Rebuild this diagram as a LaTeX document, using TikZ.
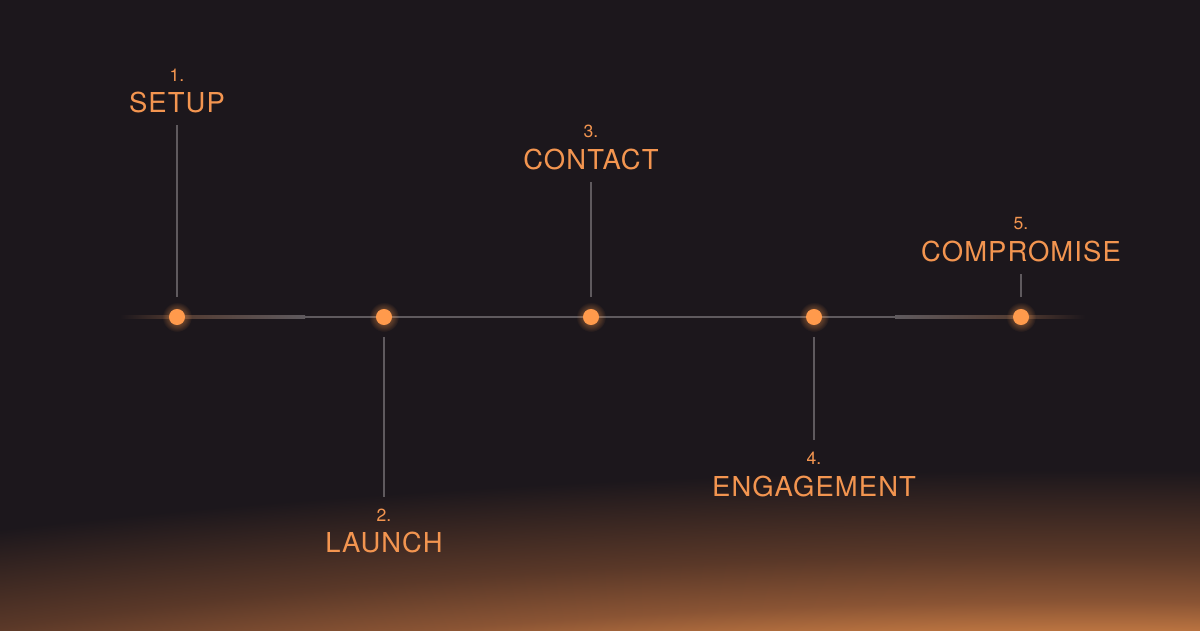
\documentclass[tikz,border=0pt]{standalone}
\usepackage{fontspec}
\setmainfont{TeX Gyre Heros}
\newfontfamily\stepfont[LetterSpace=4]{TeX Gyre Heros}
\usetikzlibrary{fadings,calc}

\definecolor{bgc}{HTML}{1C171C}
\definecolor{linegray}{HTML}{5F5A5E}
\definecolor{linebrown}{HTML}{523A30}
\definecolor{dotc}{HTML}{FF9A4C}
\definecolor{txtc}{HTML}{F39550}
\definecolor{glowhi}{HTML}{D48849}
\definecolor{glowa}{HTML}{B87240}
\definecolor{glowb}{HTML}{8A5434}
\definecolor{glowc}{HTML}{5A3828}

\pgfdeclareradialshading{dusk}{\pgfpoint{0bp}{0bp}}{color(0bp)=(glowhi); color(16bp)=(glowhi); color(17.5bp)=(glowa); color(18.8bp)=(glowb); color(21bp)=(glowc); color(25bp)=(bgc); color(50bp)=(bgc)}
\tikzfading[name=halofade, inner color=transparent!35, outer color=transparent!100]

\pgfdeclarelayer{background}
\pgfsetlayers{background,main}

\begin{document}
\begin{tikzpicture}[x=0.025cm, y=-0.025cm]

\tikzstyle{dot}=[circle, fill=dotc, minimum size=11.4pt, inner sep=0pt, outer sep=8.5pt]
\tikzstyle{halo}=[fill=dotc, path fading=halofade]
\tikzstyle{stepnum}=[text=txtc, font=\fontsize{12.5}{14}\selectfont, inner sep=0pt, outer sep=8.5pt]
\tikzstyle{steptitle}=[text=txtc, font=\fontsize{19.5}{22}\stepfont, inner sep=0pt, outer sep=8pt]
\tikzstyle{stem}=[draw=linegray, line width=1.4pt]
\tikzstyle{axis}=[draw=linegray, line width=1.7pt]

\useasboundingbox (0,0) rectangle (1200,630);

% --- timeline dots ---
\node[dot] (d1) at (177,317) {};
\node[dot] (d2) at (384,317) {};
\node[dot] (d3) at (591,317) {};
\node[dot] (d4) at (814,317) {};
\node[dot] (d5) at (1021,317) {};
\coordinate (tl-start) at (120,317);
\coordinate (fade-l) at (305,317);
\coordinate (fade-r) at (895,317);
\coordinate (tl-end) at (1085,317);

\begin{pgfonlayer}{background}
% --- background ---
\fill[bgc] (0,0) rectangle (1200,630);
\begin{scope}
\clip (0,0) rectangle (1200,630);
\shade[shading=dusk] (1100,1000) ellipse (2390 and 530);
\end{scope}

% --- timeline line ---
\shade[left color=bgc, right color=linebrown] ($(tl-start)+(0,-1.2)$) rectangle ($(d1.center)+(0,1.2)$);
\shade[left color=linebrown, right color=linegray] ($(d1.center)+(0,-1.2)$) rectangle ($(fade-l)+(0,1.2)$);
\draw[axis] (fade-l) -- (d2.center) -- (d3.center) -- (d4.center) -- (fade-r);
\shade[left color=linegray, right color=linebrown] ($(fade-r)+(0,-1.2)$) rectangle ($(d5.center)+(0,1.2)$);
\shade[left color=linebrown, right color=bgc] ($(d5.center)+(0,-1.2)$) rectangle ($(tl-end)+(0,1.2)$);

% --- halos ---
\fill[halo] (d1) circle (15);
\fill[halo] (d2) circle (15);
\fill[halo] (d3) circle (15);
\fill[halo] (d4) circle (15);
\fill[halo] (d5) circle (15);
\end{pgfonlayer}

% --- step labels ---
\node[stepnum] (n1) at (177,75) {1.};
\node[steptitle] (s1) at (177,103) {SETUP};
\node[stepnum] (n2) at (384,515) {2.};
\node[steptitle] (s2) at (384,542) {LAUNCH};
\node[stepnum] (n3) at (591,131) {3.};
\node[steptitle] (s3) at (591,160) {CONTACT};
\node[stepnum] (n4) at (814,458) {4.};
\node[steptitle] (s4) at (814,486) {ENGAGEMENT};
\node[stepnum] (n5) at (1021,224) {5.};
\node[steptitle] (s5) at (1021,252) {COMPROMISE};

% --- stems ---
\draw[stem] (d1.north) -- (s1.south);
\draw[stem] (d2.south) -- (n2.north);
\draw[stem] (d3.north) -- (s3.south);
\draw[stem] (d4.south) -- (n4.north);
\draw[stem] (d5.north) -- (s5.south);

\end{tikzpicture}
\end{document}
